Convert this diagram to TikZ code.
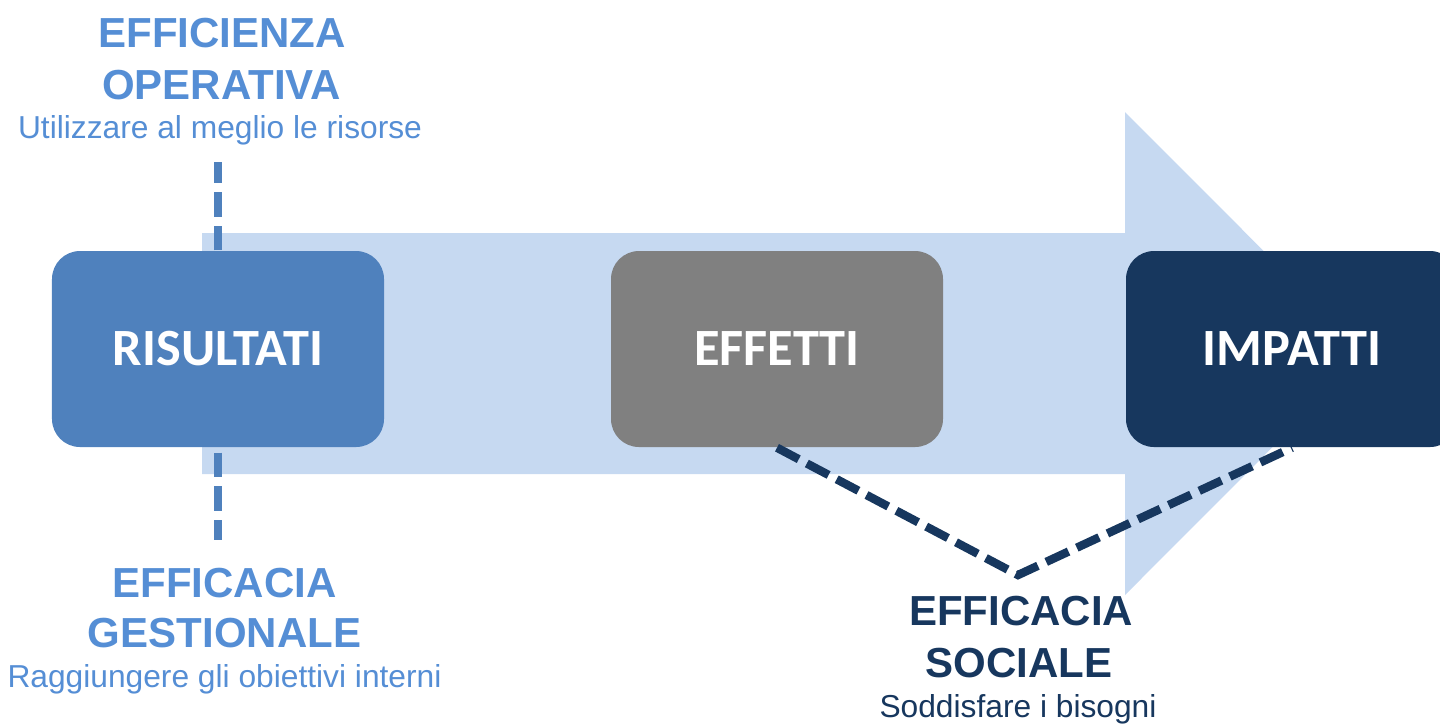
\documentclass[tikz,border=0pt]{standalone}
\usepackage{fontspec}
\setmainfont{Liberation Sans}
\newfontfamily\calibri{Carlito}
\usepackage{tikz}
\usetikzlibrary{shapes}
\definecolor{arrowblue}{HTML}{C6D9F1}
\definecolor{resblue}{HTML}{4F81BD}
\definecolor{effgray}{HTML}{808080}
\definecolor{impnavy}{HTML}{17375E}
\definecolor{textblue}{HTML}{558ED5}
\tikzstyle{phase} = [rectangle, rounded corners=0.28cm, text=white, 
    minimum width=3.32cm, minimum height=1.96cm, inner sep=0pt,
    font=\calibri\bfseries\fontsize{14.9}{18}\selectfont]
\tikzstyle{heading} = [anchor=base, inner sep=0pt, font=\bfseries\fontsize{11.95}{14}\selectfont]
\tikzstyle{subline} = [anchor=base, inner sep=0pt, font=\fontsize{9.03}{11}\selectfont]
\tikzstyle{guide} = [line width=2.4pt, dash pattern=on 7pt off 2.6pt]

\begin{document}
\begin{tikzpicture}
    \useasboundingbox (0,0) rectangle (14.4,-7.26);
    \clip (0,0) rectangle (14.4,-7.26);

    % Big arrow
    \path [fill=arrowblue] (2.02,-2.33) -- (11.25,-2.33) -- (11.25,-1.12) -- (13.66,-3.535)
        -- (11.25,-5.95) -- (11.25,-4.74) -- (2.02,-4.74) -- cycle;

    % Place nodes
    \node [phase, fill=resblue, at={(2.18,-3.49)}] (res) {RISULTATI};
    \node [phase, fill=effgray, at={(7.77,-3.49)}] (eff) {EFFETTI};
    \node [phase, fill=impnavy, at={(12.92,-3.49)}] (imp) {IMPATTI};

    % Efficienza operativa
    \node [heading, text=textblue, at={(2.22,-0.47)}] (effop1) {EFFICIENZA};
    \node [heading, text=textblue, at={(2.215,-0.99)}] (effop2) {OPERATIVA};
    \node [subline, text=textblue, at={(2.20,-1.38)}] (effop3) {Utilizzare al meglio le risorse};

    % Efficacia gestionale
    \node [heading, text=textblue, at={(2.245,-5.97)}] (effges1) {EFFICACIA};
    \node [heading, text=textblue, at={(2.245,-6.47)}] (effges2) {GESTIONALE};
    \node [subline, text=textblue, at={(2.245,-6.87)}] (effges3) {Raggiungere gli obiettivi interni};

    % Efficacia sociale
    \node [heading, text=impnavy, at={(10.21,-6.25)}] (effsoc1) {EFFICACIA};
    \node [heading, text=impnavy, at={(10.19,-6.77)}] (effsoc2) {SOCIALE};
    \node [subline, text=impnavy, at={(10.18,-7.17)}] (effsoc3) {Soddisfare i bisogni};

    \coordinate (vtip) at (10.18,-5.75);

    % Draw lines
    \path [draw, guide, resblue, shorten >=0.17cm] (res.north) -- (res.north |- effop3.south);
    \path [draw, guide, resblue, shorten <=0.05cm, shorten >=0.27cm] (res.south) -- (res.south |- effges1.north);
    \path [draw, guide, impnavy] (eff.south) -- (vtip) -- (imp.south);

\end{tikzpicture}
\end{document}
